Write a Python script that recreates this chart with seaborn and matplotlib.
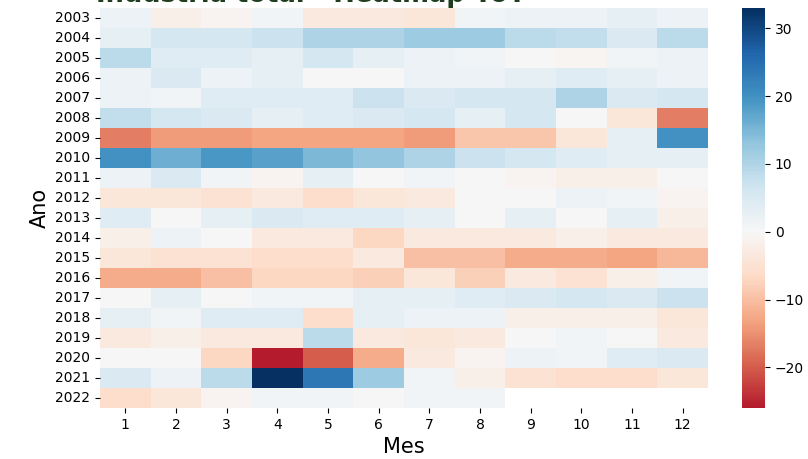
import numpy as np
import pandas as pd
import seaborn as sns
import matplotlib
matplotlib.use("Agg")
import matplotlib.pyplot as plt

years = list(range(2003, 2023))
months = list(range(1, 13))

v2003 = [2, -2, -1, 1, -3, -3, -4, 1, 2, 2, 3, 2]
v2004 = [3, 6, 6, 7, 10, 10, 12, 12, 9, 8, 5, 9]
v2005 = [9, 4, 4, 3, 6, 3, 2, 1, 0, -0.5, 1, 2]
v2006 = [2, 5, 2, 3, 0, 0, 2, 2, 3, 4, 3, 2]
v2007 = [2, 1, 4, 4, 4, 7, 5, 6, 6, 10, 5, 6]
v2008 = [8, 6, 5, 3, 4, 5, 6, 3, 6, 0, -4, -17]
v2009 = [-17, -14, -14, -13, -13, -13, -14, -9, -9, -4, 3, 20]
v2010 = [20, 16, 19, 18, 15, 13, 10, 7, 6, 4, 3, 3]
v2011 = [2, 5, 1, -1, 3, 0, 1, 0, -1, -2, -2, 0]
v2012 = [-4, -4, -5, -3, -6, -4, -3, 0, 0, 2, 1, -1]
v2013 = [4, 0, 3, 5, 4, 4, 3, 0, 3, 0, 3, -2]
v2014 = [-2, 2, 0, -3, -3, -7, -3, -3, -3, -2, -3, -3]
v2015 = [-4, -5, -5, -6, -6, -3, -10, -10, -12, -12, -13, -11]
v2016 = [-12, -12, -10, -7, -7, -8, -4, -8, -3, -5, -2, 1]
v2017 = [0, 3, 0, 1, 1, 3, 3, 4, 5, 6, 5, 7]
v2018 = [3, 1, 4, 4, -6, 3, 2, 2, -2, -2, -2, -4]
v2019 = [-3, -2, -3, -3, 9, -3, -4, -3, 0, 1, 0, -3]
v2020 = [0, 0, -7, -26, -20, -12, -3, -1, 2, 1, 4, 5]
v2021 = [5, 2, 9, 33, 24, 12, 1, -2, -5, -6, -6, -4]
v2022 = [-6, -4, -1, 1, 1, 0, 1, 1, np.nan, np.nan, np.nan, np.nan]

rows = [v2003, v2004, v2005, v2006, v2007, v2008, v2009, v2010, v2011, v2012,
        v2013, v2014, v2015, v2016, v2017, v2018, v2019, v2020, v2021, v2022]
df = pd.DataFrame(rows, index=pd.Index(years, name="Ano"),
                  columns=pd.Index(months, name="Mes"))

fig = plt.figure(figsize=(8.08, 4.59), dpi=100)
W, H = 808, 459
ax = fig.add_axes([100 / W, (H - 408) / H, 608 / W, 400 / H])
cax = fig.add_axes([742 / W, (H - 408) / H, 23 / W, 400 / H])

sns.heatmap(df, cmap="RdBu", center=0, ax=ax, cbar_ax=cax)

ax.set_xlabel("Mes", fontsize=15)
ax.set_ylabel("Ano", fontsize=15)
ax.tick_params(axis="x", labelsize=10, rotation=0)
ax.tick_params(axis="y", labelsize=10, rotation=0)
cax.tick_params(labelsize=10)
cax.set_yticks([-20, -10, 0, 10, 20, 30])

fig.text(96 / W, 1 - 2 / H, "Indústria total - Heatmap YoY", fontsize=18.5,
         fontweight="bold", color="#1f3d1f", ha="left", va="baseline")

fig.savefig("out.png", dpi=100)
